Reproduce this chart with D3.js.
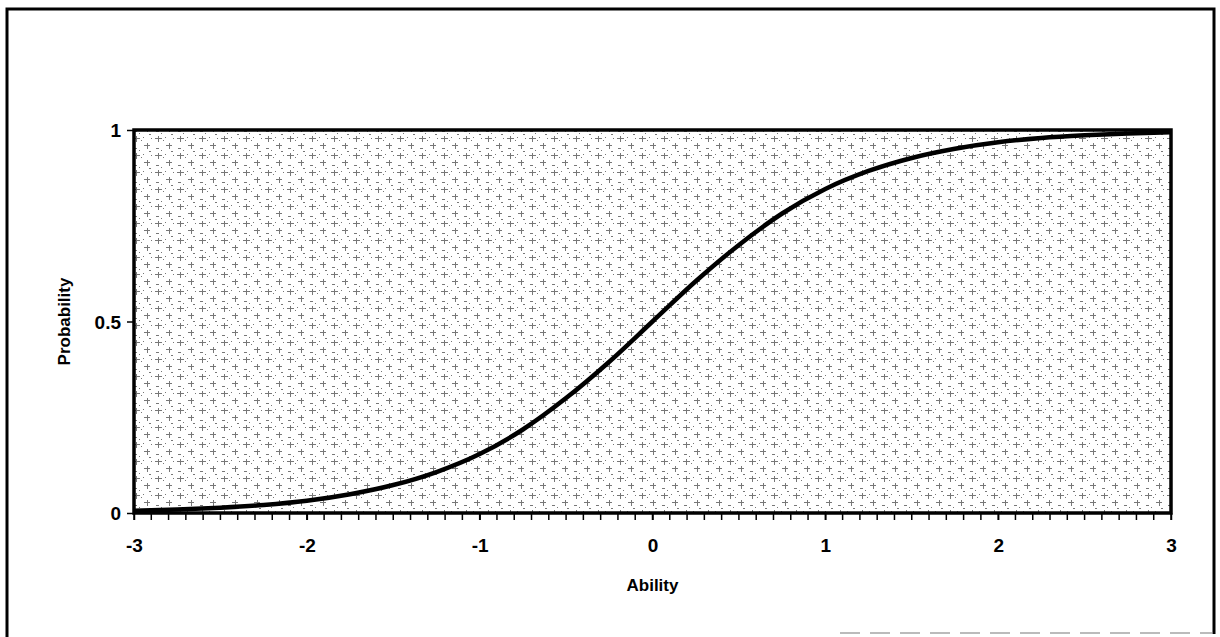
<!DOCTYPE html>
<html><head><meta charset="utf-8">
<script src="https://cdn.jsdelivr.net/npm/d3@7"></script>
<style>body{margin:0;background:#fff}svg{display:block}text{font-family:"Liberation Sans",Arial,sans-serif;font-weight:bold;fill:#000}</style>
</head><body>
<script>
const abilityValues = [-3,-2.75,-2.5,-2.25,-2,-1.75,-1.5,-1.25,-1,-0.75,-0.5,-0.25,0,0.25,0.5,0.75,1,1.25,1.5,1.75,2,2.25,2.5,2.75,3];
const probabilityValues = [0.006,0.009,0.014,0.021,0.032,0.049,0.073,0.107,0.154,0.218,0.30,0.395,0.5,0.605,0.70,0.782,0.846,0.893,0.927,0.951,0.968,0.979,0.986,0.991,0.994];
const xTickValues = [-3,-2,-1,0,1,2,3];
const xTickLabels = ["-3","-2","-1","0","1","2","3"];
const yTickValues = [0,0.5,1];
const yTickLabels = ["0","0.5","1"];
const xAxisTitle = "Ability";
const yAxisTitle = "Probability";

const W=1220,H=637;
const m={left:134,top:130,right:1171,bottom:513};
const svg=d3.select("body").append("svg").attr("width",W).attr("height",H);
const defs=svg.append("defs");
const pat=defs.append("pattern").attr("id","scan").attr("width",22).attr("height",17).attr("patternUnits","userSpaceOnUse");
pat.append("rect").attr("width",22).attr("height",17).attr("fill","#fff");
[[1,2,7,1],[4,0,1,6],[12,9,6,1],[15,7,1,6],[2,12,3,1],[9,4,1,1],[19,2,1,1],[7,14,1,1],[17,15,2,1],[11,1,1,1]].forEach(r=>{
  pat.append("rect").attr("x",r[0]).attr("y",r[1]).attr("width",r[2]).attr("height",r[3]).attr("fill","#555");
});

const x=d3.scaleLinear().domain([-3,3]).range([m.left,m.right]);
const y=d3.scaleLinear().domain([0,1]).range([m.bottom,m.top]);

// outer frame
svg.append("path").attr("d",`M7,637 L7,9 L1214,9 L1214,634`).attr("fill","none").attr("stroke","#000").attr("stroke-width",3);
svg.append("line").attr("x1",840).attr("x2",1212).attr("y1",633).attr("y2",633).attr("stroke","#bbb").attr("stroke-width",2).attr("stroke-dasharray","20,10");

// plot area
svg.append("rect").attr("x",m.left).attr("y",m.top).attr("width",m.right-m.left).attr("height",m.bottom-m.top).attr("fill","url(#scan)").attr("opacity",0.8);
svg.append("rect").attr("x",m.left).attr("y",m.top).attr("width",m.right-m.left).attr("height",m.bottom-m.top).attr("fill","none").attr("stroke","#000").attr("stroke-width",3.5);

// minor ticks
const minor=d3.range(-30,31).map(i=>i/10);
svg.append("g").selectAll("line").data(minor).join("line")
  .attr("x1",d=>x(d)).attr("x2",d=>x(d)).attr("y1",m.bottom).attr("y2",m.bottom+7).attr("stroke","#000").attr("stroke-width",1.5);

// x axis labels
const xa=svg.append("g").attr("transform",`translate(0,${m.bottom})`).call(d3.axisBottom(x).tickValues(xTickValues).tickSize(7).tickFormat((d,i)=>xTickLabels[i]));
xa.select(".domain").remove();
xa.selectAll("line").attr("stroke-width",1.5);
xa.selectAll("text").attr("dy",0).attr("y",39).style("font-size","19px").style("font-family","Liberation Sans, Arial, sans-serif").style("font-weight","bold");

const ya=svg.append("g").attr("transform",`translate(${m.left},0)`).call(d3.axisLeft(y).tickValues(yTickValues).tickSize(7).tickFormat((d,i)=>yTickLabels[i]));
ya.select(".domain").remove();
ya.selectAll("line").attr("stroke-width",1.5);
ya.selectAll("text").attr("x",-13).attr("dy","0.35em").style("font-size","19px").style("font-family","Liberation Sans, Arial, sans-serif").style("font-weight","bold");

// curve
const data=abilityValues.map((a,i)=>[a,probabilityValues[i]]);
svg.append("path").datum(data).attr("fill","none").attr("stroke","#000").attr("stroke-width",4.5)
  .attr("d",d3.line().x(d=>x(d[0])).y(d=>y(d[1])).curve(d3.curveMonotoneX));

// titles
svg.append("text").attr("x",(m.left+m.right)/2).attr("y",591).attr("text-anchor","middle").style("font-size","17px").text(xAxisTitle);
svg.append("text").attr("transform",`translate(70,${(m.top+m.bottom)/2}) rotate(-90)`).attr("text-anchor","middle").style("font-size","17px").text(yAxisTitle);
</script>
</body></html>
